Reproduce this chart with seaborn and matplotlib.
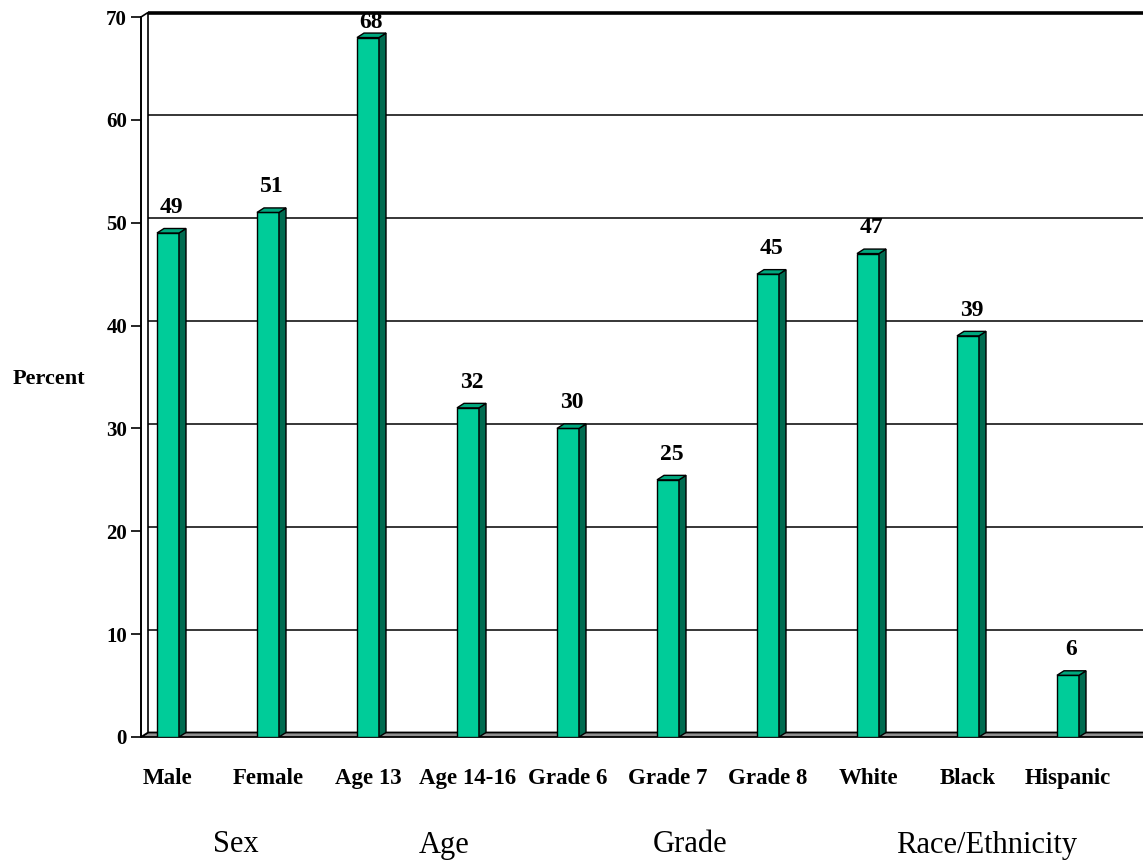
import matplotlib
matplotlib.use("Agg")
import matplotlib.pyplot as plt
import seaborn as sns
import numpy as np
from matplotlib.patches import Polygon
from matplotlib.transforms import blended_transform_factory

categories = ["Male", "Female", "Age 13", "Age 14-16", "Grade 6", "Grade 7",
              "Grade 8", "White", "Black", "Hispanic"]
values = [49, 51, 68, 32, 30, 25, 45, 47, 39, 6]
groups = ["Sex", "Age", "Grade", "Race/Ethnicity"]
group_pos = [0.68, 2.76, 5.22, 8.19]
yticks = [0, 10, 20, 30, 40, 50, 60, 70]

sns.set_theme(style="white")
plt.rcParams["font.family"] = ["Liberation Serif", "DejaVu Serif"]
plt.rcParams["text.color"] = "black"

FRONT = "#00CC99"
SIDE = "#006B50"
TOP = "#00A87E"

W, H = 1143, 865
fig = plt.figure(figsize=(W / 100, H / 100), dpi=100)
ax = fig.add_axes([141 / W, (H - 737) / H, (W - 141) / W, 720 / H])
xmin, xmax = -0.27, 9.75

sns.barplot(x=categories, y=values, color=FRONT, saturation=1, width=0.22,
            edgecolor="black", linewidth=1.0, ax=ax, zorder=5)
ax.set_xlim(xmin, xmax)
ax.set_ylim(0, 70)

# depth of the 3-D effect, converted from pixels into data units
dx_px, dy_px = 7, 4.5
inv = ax.transData.inverted()
o = inv.transform(ax.transData.transform((0, 0)))
d = inv.transform(ax.transData.transform((0, 0)) + np.array([dx_px, dy_px]))
ddx, ddy = d - o

# floor
floor = Polygon([(xmin, 0), (xmax + 1, 0), (xmax + 1 + ddx, ddy), (xmin + ddx, ddy)],
                closed=True, facecolor="#8f8f8f", edgecolor="black", lw=1.3,
                zorder=2, clip_on=False)
ax.add_patch(floor)

# left wall
wall = Polygon([(xmin, 0), (xmin, 70), (xmin + ddx, 70 + ddy), (xmin + ddx, ddy)],
               closed=True, facecolor="white", edgecolor="black", lw=1.2,
               zorder=2, clip_on=False)
ax.add_patch(wall)

# gridlines on the back wall
for v in yticks[1:-1]:
    ax.plot([xmin + ddx, xmax + 1], [v + ddy, v + ddy], color="black", lw=1.1,
            zorder=1, clip_on=False)
ax.plot([xmin + ddx, xmax + 1], [70 + ddy, 70 + ddy], color="black", lw=2.6,
        zorder=1, clip_on=False, solid_capstyle="butt")

# side and top faces of each bar, plus value labels
for p, v in zip(ax.patches, values):
    x0 = p.get_x()
    w = p.get_width()
    h = p.get_height()
    side = Polygon([(x0 + w, 0), (x0 + w, h), (x0 + w + ddx, h + ddy), (x0 + w + ddx, ddy)],
                   closed=True, facecolor=SIDE, edgecolor="black", lw=1.0, zorder=5)
    top = Polygon([(x0, h), (x0 + w, h), (x0 + w + ddx, h + ddy), (x0 + ddx, h + ddy)],
                  closed=True, facecolor=TOP, edgecolor="black", lw=1.0, zorder=5)
    ax.add_patch(side)
    ax.add_patch(top)
    ax.text(x0 + w / 2 + ddx / 2, min(h + 2.5, 69.5), f"{v}", ha="center",
            va="center", fontsize=17, fontweight="bold", color="black",
            zorder=6, clip_on=False)

for s in ["top", "right", "bottom"]:
    ax.spines[s].set_visible(False)
ax.spines["left"].set_color("black")
ax.spines["left"].set_linewidth(1.2)
ax.spines["left"].set_zorder(3)

ax.set_yticks(yticks)
ax.set_yticklabels([str(t) for t in yticks], fontsize=15, fontweight="bold")
ax.tick_params(axis="y", direction="out", length=7, width=1.2, color="black",
               left=True, pad=3, labelcolor="black")
ax.tick_params(axis="x", length=0, pad=22, labelsize=16.5, labelcolor="black")
for lbl in ax.get_xticklabels():
    lbl.set_fontweight("bold")
ax.set_xlabel("")
ax.set_ylabel("")
ax.grid(False)
ax.set_facecolor("none")

fig.text(49 / W, 1 - 379 / H, "Percent", ha="center", va="center",
         fontsize=16, fontweight="bold", color="black")

tr = blended_transform_factory(ax.transData, fig.transFigure)
for g, gx in zip(groups, group_pos):
    ax.text(gx, 1 - 845 / H, g, transform=tr, ha="center", va="center",
            fontsize=22, color="black", clip_on=False)

fig.savefig("out.png", dpi=100)
